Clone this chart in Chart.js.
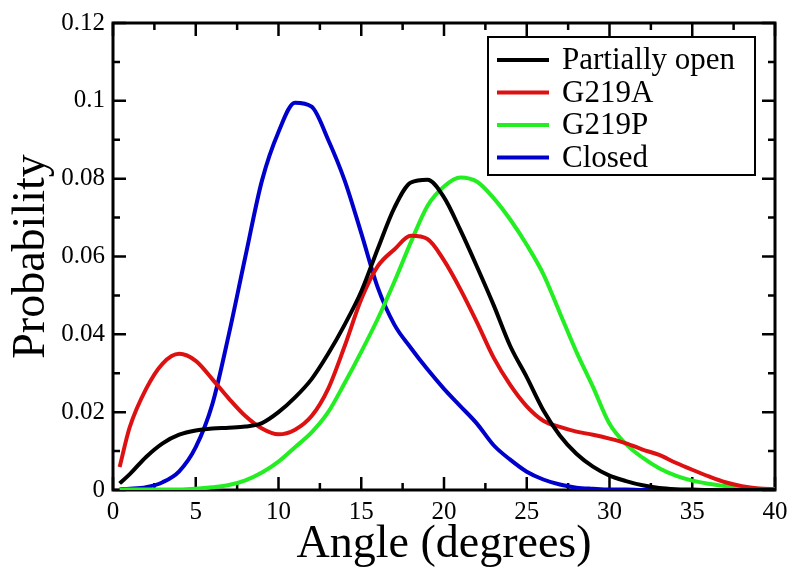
<!DOCTYPE html>
<html>
<head>
<meta charset="utf-8">
<script src="https://cdn.jsdelivr.net/npm/chart.js@4/dist/chart.umd.min.js"></script>
<style>
  body { margin: 0; background: #fff; }
  #wrap { width: 800px; height: 577px; }
</style>
</head>
<body>
<div id="wrap"><canvas id="probChart" width="800" height="577"></canvas></div>
<script>
// angle grid (degrees) shared by all curves
const angles = [0.4, 1, 2, 3, 4, 5, 6, 7, 8, 9, 10, 11, 12, 13, 14, 15, 16, 17, 18, 19, 20,
  21, 22, 23, 24, 25, 26, 27, 28, 29, 30, 31, 32, 33, 34, 35, 36, 37, 38, 39, 40];

const seriesNames = ['Partially open', 'G219A', 'G219P', 'Closed'];
const seriesColors = ['#000000', '#dd1111', '#22ee22', '#0000cc'];

const partiallyOpen = [0.0017, 0.004, 0.0085, 0.012, 0.0142, 0.0153, 0.0158, 0.016, 0.0163, 0.0172, 0.020,
  0.0238, 0.0285, 0.035, 0.0425, 0.051, 0.062, 0.0725, 0.079, 0.0797, 0.0752,
  0.0667, 0.0573, 0.0475, 0.037, 0.029, 0.0205, 0.014, 0.0093, 0.006, 0.0037,
  0.0023, 0.0012, 0.0005, 0.0002, 0.0001, 0.0, 0.0, 0.0, 0.0, 0.0];

const g219a = [0.0059, 0.016, 0.026, 0.0325, 0.035, 0.0332, 0.0285, 0.0235, 0.019, 0.0158, 0.0143,
  0.0155, 0.019, 0.026, 0.037, 0.049, 0.0575, 0.0618, 0.0653, 0.0645, 0.059,
  0.0515, 0.043, 0.034, 0.027, 0.0215, 0.0178, 0.0162, 0.015, 0.0142, 0.0132,
  0.012, 0.0104, 0.009, 0.007, 0.0052, 0.0035, 0.002, 0.001, 0.0004, 0.0002];

const g219p = [0.0001, 0.0001, 0.0001, 0.0001, 0.0001, 0.0003, 0.0007, 0.0013, 0.0025, 0.0045, 0.0073,
  0.011, 0.0148, 0.020, 0.0275, 0.0355, 0.044, 0.0535, 0.0637, 0.073, 0.078,
  0.0803, 0.0792, 0.075, 0.0695, 0.063, 0.0555, 0.0455, 0.0355, 0.0265, 0.017,
  0.0118, 0.0083, 0.0056, 0.0037, 0.0024, 0.0016, 0.001, 0.0005, 0.0003, 0.0002];

const closed = [0.0002, 0.0003, 0.0007, 0.002, 0.0048, 0.011, 0.022, 0.040, 0.060, 0.0795, 0.092,
  0.0995, 0.0985, 0.090, 0.0795, 0.066, 0.052, 0.0425, 0.0365, 0.031, 0.026,
  0.0215, 0.017, 0.0115, 0.0078, 0.0047, 0.0027, 0.0014, 0.0006, 0.0003, 0.0001,
  0.0001, 0.0, 0.0, 0.0, 0.0, 0.0, 0.0, 0.0, 0.0, 0.0];

const xTicks = [0, 5, 10, 15, 20, 25, 30, 35, 40];
const yTicks = [0, 0.02, 0.04, 0.06, 0.08, 0.1, 0.12];

const serif = "'Liberation Serif', 'Times New Roman', serif";
const allSeries = [partiallyOpen, g219a, g219p, closed];

// frame + inward ticks (major and minor) on all four sides
const framePlugin = {
  id: 'frame',
  beforeDatasetsDraw(chart) {
    const { ctx, chartArea: a, scales } = chart;
    const xs = scales.x, ys = scales.y;
    ctx.save();
    ctx.strokeStyle = '#000';
    ctx.lineWidth = 2.5;
    for (let v = 0; v <= 40.001; v += 2.5) {
      const px = xs.getPixelForValue(v);
      const len = (Math.round(v * 10) % 50 === 0) ? 13 : 7;
      ctx.beginPath();
      ctx.moveTo(px, a.bottom); ctx.lineTo(px, a.bottom - len);
      ctx.moveTo(px, a.top); ctx.lineTo(px, a.top + len);
      ctx.stroke();
    }
    for (let i = 0; i <= 12; i++) {
      const py = ys.getPixelForValue(i / 100);
      const len = (i % 2 === 0) ? 13 : 7;
      ctx.beginPath();
      ctx.moveTo(a.left, py); ctx.lineTo(a.left + len, py);
      ctx.moveTo(a.right, py); ctx.lineTo(a.right - len, py);
      ctx.stroke();
    }
    ctx.lineWidth = 3;
    ctx.strokeRect(a.left, a.top, a.right - a.left, a.bottom - a.top);
    ctx.restore();
  }
};

// boxed legend in the top-right corner
const legendPlugin = {
  id: 'boxLegend',
  afterDraw(chart) {
    const ctx = chart.ctx;
    const box = { x: 488, y: 37, w: 267, h: 138 };
    ctx.save();
    ctx.fillStyle = '#fff';
    ctx.fillRect(box.x, box.y, box.w, box.h);
    ctx.strokeStyle = '#000';
    ctx.lineWidth = 2;
    ctx.strokeRect(box.x, box.y, box.w, box.h);
    ctx.font = '31px ' + serif;
    ctx.textBaseline = 'middle';
    ctx.fillStyle = '#000';
    chart.data.datasets.forEach((ds, i) => {
      const y = 60 + i * 32.5;
      ctx.strokeStyle = ds.borderColor;
      ctx.lineWidth = 4;
      ctx.beginPath();
      ctx.moveTo(497, y); ctx.lineTo(549, y);
      ctx.stroke();
      ctx.fillText(ds.label, 562, y + 1);
    });
    ctx.restore();
  }
};

const datasets = seriesNames.map((name, i) => ({
  label: name,
  data: angles.map((a, j) => ({ x: a, y: allSeries[i][j] })),
  borderColor: seriesColors[i],
  backgroundColor: seriesColors[i],
  borderWidth: 4,
  pointRadius: 0,
  cubicInterpolationMode: 'monotone',
  fill: false
}));

new Chart(document.getElementById('probChart'), {
  type: 'line',
  data: { datasets: datasets },
  plugins: [framePlugin, legendPlugin],
  options: {
    responsive: false,
    animation: false,
    layout: { padding: { top: 17, right: 25, left: 0, bottom: 0 } },
    plugins: { legend: { display: false }, tooltip: { enabled: false } },
    scales: {
      x: {
        type: 'linear', min: 0, max: 40,
        afterFit: (s) => { s.height = 87; },
        afterBuildTicks: (s) => { s.ticks = xTicks.map(v => ({ value: v })); },
        grid: { display: false, drawTicks: false },
        border: { display: false },
        ticks: { color: '#000', padding: 7, font: { family: serif, size: 25 }, maxRotation: 0 },
        title: { display: true, text: 'Angle (degrees)', color: '#000',
                 font: { family: serif, size: 46 }, padding: { bottom: 4 } }
      },
      y: {
        type: 'linear', min: 0, max: 0.12,
        afterFit: (s) => { s.width = 113; },
        afterBuildTicks: (s) => { s.ticks = yTicks.map(v => ({ value: v })); },
        grid: { display: false, drawTicks: false },
        border: { display: false },
        ticks: { color: '#000', padding: 8, font: { family: serif, size: 25 },
                 callback: (v) => String(Number(v.toFixed(2))) },
        title: { display: true, text: 'Probability', color: '#000',
                 font: { family: serif, size: 46 }, padding: { top: 4 } }
      }
    }
  }
});
</script>
</body>
</html>
